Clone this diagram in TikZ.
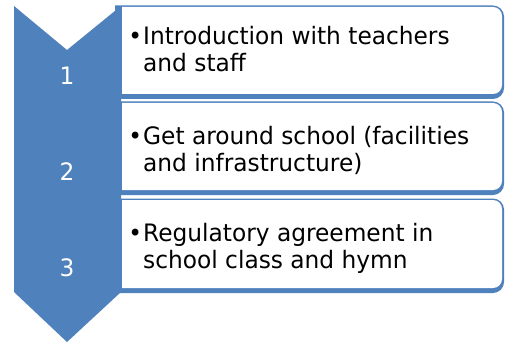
\documentclass[tikz,border=0pt]{standalone}
\usepackage{fontspec}
\newfontfamily\tah[FakeStretch=0.97]{DejaVu Sans}
\definecolor{acc}{HTML}{4F81BD}
\tikzset{
  itemtext/.style={anchor=base west, align=left, inner sep=0pt, text=black, font=\tah\fontsize{24}{27}\selectfont},
  numtext/.style={anchor=center, inner sep=0pt, text=white, font=\tah\fontsize{24}{27}\selectfont}
}
% right box: x0, x1, top, bottom, radius
\newcommand{\rbox}[6]{%
  \fill[#6] (#1,#4) -- (#1,#3) -- ({#2-#5},#3) arc[start angle=90,end angle=0,radius=#5 pt]
    -- (#2,{#4+#5}) arc[start angle=0,end angle=-90,radius=#5 pt] -- cycle;}
\begin{document}
\begin{tikzpicture}[x=1pt,y=1pt]
\useasboundingbox (0,0) rectangle (505,343);
\fill[white] (0,0) rectangle (505,343);
% boxes (blue outline, white interior)
\rbox{115}{504}{337.5}{244}{11}{acc}
\rbox{122}{502}{336}{249}{9}{white}
\rbox{115}{504}{241.5}{148}{11}{acc}
\rbox{122}{502}{240}{153}{9}{white}
\rbox{115}{504}{144.5}{50}{11}{acc}
\rbox{122}{502}{143}{55}{9}{white}
% chevron column
\fill[acc] (14,337) -- (67,293) -- (121,337) -- (121,51) -- (67,1) -- (14,51) -- cycle;
% numbers
\node[numtext] (n1) at (67,267) {1};
\node[numtext] (n2) at (67,171) {2};
\node[numtext] (n3) at (67,75) {3};
% texts (base anchor = baseline of last line)
\node[itemtext] (t1) at (143,271) {\llap{•\hspace{1pt}}Introduction with teachers\\and staff};
\node[itemtext] (t2) at (143,171) {\llap{•\hspace{1pt}}Get around school (facilities\\and infrastructure)};
\node[itemtext] (t3) at (143,75) {\llap{•\hspace{1pt}}Regulatory agreement in\\school class and hymn};
\end{tikzpicture}
\end{document}
